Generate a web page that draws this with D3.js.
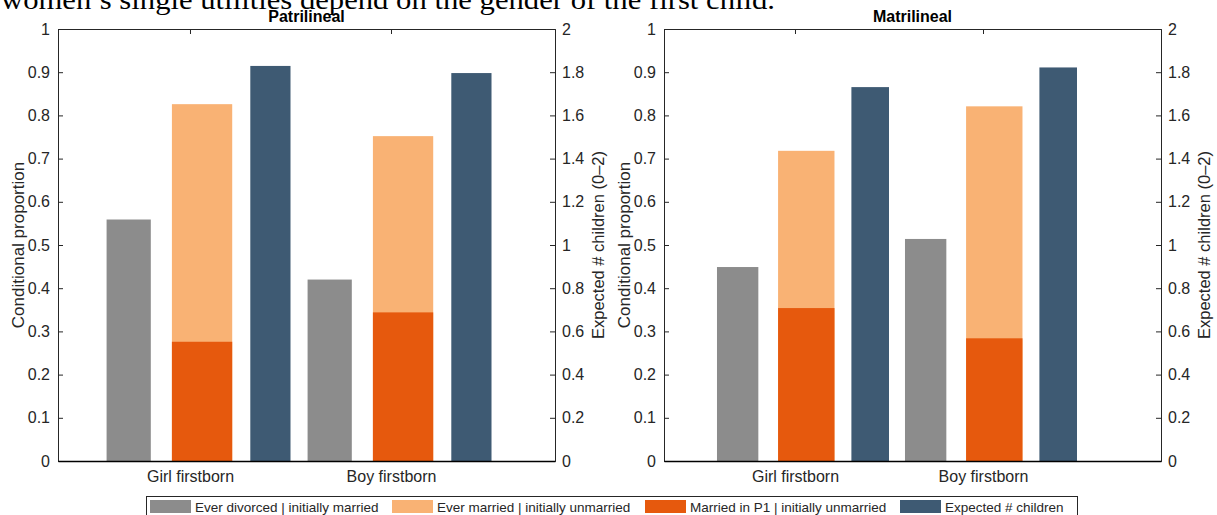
<!DOCTYPE html>
<html><head><meta charset="utf-8">
<script src="https://cdn.jsdelivr.net/npm/d3@7"></script>
<style>
html,body{margin:0;padding:0;background:#fff;overflow:hidden}
svg{display:block}
text{font-family:"Liberation Sans",Arial,Helvetica,sans-serif;fill:#262626}
</style></head>
<body>
<svg id="chart" width="1217" height="515"></svg>
<script>
// ---- data ----
const categories = ["Girl firstborn", "Boy firstborn"];
const panels = ["Patrilineal", "Matrilineal"];
const everDivorced = [[0.559, 0.420], [0.449, 0.514]];
const everMarried  = [[0.826, 0.752], [0.718, 0.821]];
const marriedP1    = [[0.276, 0.344], [0.354, 0.284]];
const expectedKids = [[1.829, 1.796], [1.731, 1.822]];
const leftTicks  = [0, 0.1, 0.2, 0.3, 0.4, 0.5, 0.6, 0.7, 0.8, 0.9, 1];
const rightTicks = [0, 0.2, 0.4, 0.6, 0.8, 1, 1.2, 1.4, 1.6, 1.8, 2];
const legendLabels = ["Ever divorced | initially married", "Ever married | initially unmarried", "Married in P1 | initially unmarried", "Expected # children"];
const headerText = "women\u2019s single utilities depend on the gender of the first child.";

// ---- styles ----
const colors = {div:"#8c8c8c", mar:"#f9b274", p1:"#e6590d", kids:"#3e5a73"};
const axisColor = "#262626";

const svg = d3.select("#chart");

// partial header line cut at top
svg.append("text").attr("x", 1).attr("y", 9)
  .attr("textLength", 774).attr("lengthAdjust", "spacingAndGlyphs")
  .style("font-family", "'Liberation Serif','DejaVu Serif',serif")
  .style("font-size", "28px").style("fill", "#000")
  .text(headerText);

const layout = [
  {left:58, width:497, dom:[0.3433, 2.8159]},
  {left:664, width:497, dom:[0.3032, 2.9468]}
];
const plotTop = 29, plotBottom = 461;

const series = [
  {key:"div", vals:everDivorced, off:-0.305, w:0.22, axis:"L"},
  {key:"mar", vals:everMarried, off:0.06, w:0.30, axis:"L"},
  {key:"p1", vals:marriedP1, off:0.06, w:0.30, axis:"L"},
  {key:"kids", vals:expectedKids, off:0.40, w:0.20, axis:"R"}
];

panels.forEach((title, pi) => {
  const L = layout[pi];
  const x = d3.scaleLinear().domain(L.dom).range([L.left, L.left + L.width]);
  const yL = d3.scaleLinear().domain([0, 1]).range([plotBottom, plotTop]);
  const yR = d3.scaleLinear().domain([0, 2]).range([plotBottom, plotTop]);
  const g = svg.append("g");

  series.forEach(s => {
    const y = s.axis === "L" ? yL : yR;
    g.selectAll(null).data(s.vals[pi]).enter().append("rect")
      .attr("x", (d, i) => x(i + 1 + s.off - s.w / 2))
      .attr("width", (d, i) => x(i + 1 + s.off + s.w / 2) - x(i + 1 + s.off - s.w / 2))
      .attr("y", d => y(d))
      .attr("height", d => y(0) - y(d))
      .attr("fill", colors[s.key]);
  });

  const axL = d3.axisLeft(yL).tickValues(leftTicks).tickFormat(d3.format("~g")).tickSize(-5).tickPadding(8);
  const gL = g.append("g").attr("transform", `translate(${L.left},0)`).call(axL);
  const axR = d3.axisRight(yR).tickValues(rightTicks).tickFormat(d3.format("~g")).tickSize(-5).tickPadding(7);
  const gR = g.append("g").attr("transform", `translate(${L.left + L.width},0)`).call(axR);
  const axB = d3.axisBottom(x).tickValues([1, 2]).tickFormat((d) => categories[d - 1]).tickSizeInner(0).tickSizeOuter(0).tickPadding(10);
  const gB = g.append("g").attr("transform", `translate(0,${plotBottom})`).call(axB);
  const axT = d3.axisTop(x).tickValues([1, 2]).tickFormat("").tickSize(-5);
  const gT = g.append("g").attr("transform", `translate(0,${plotTop})`).call(axT);

  [gL, gR, gB, gT].forEach(a => {
    a.selectAll(".domain").attr("stroke", axisColor).attr("stroke-width", 1);
    a.selectAll(".tick line").attr("stroke", axisColor);
    a.selectAll(".tick text").style("font-size", "16px").style("font-family", "'Liberation Sans',Arial,sans-serif").attr("fill", axisColor);
  });
  gB.select(".domain").attr("stroke", "#000").attr("stroke-width", 1.5);

  g.append("text")
    .attr("transform", `translate(${L.left - 34},${(plotTop + plotBottom) / 2}) rotate(-90)`)
    .attr("text-anchor", "middle").style("font-size", "17px")
    .text("Conditional proportion");
  g.append("text")
    .attr("transform", `translate(${L.left + L.width + 49},${(plotTop + plotBottom) / 2}) rotate(-90)`)
    .attr("text-anchor", "middle").style("font-size", "16.5px")
    .text("Expected # children (0\u20132)");
  g.append("text")
    .attr("x", L.left + L.width / 2).attr("y", 22)
    .attr("text-anchor", "middle").style("font-size", "16px").style("font-weight", "bold")
    .style("fill", "#000")
    .text(title);
});

// legend
const legend = svg.append("g");
legend.append("rect").attr("x", 146.5).attr("y", 496.5).attr("width", 931).attr("height", 19)
  .attr("fill", "#fff").attr("stroke", axisColor).attr("stroke-width", 1);
const legX = [150, 392, 645, 900];
const legKeys = ["div", "mar", "p1", "kids"];
legendLabels.forEach((lab, i) => {
  legend.append("rect").attr("x", legX[i]).attr("y", 500).attr("width", 41).attr("height", 13)
    .attr("fill", colors[legKeys[i]]);
  legend.append("text").attr("x", legX[i] + 45).attr("y", 511.5)
    .style("font-size", "13.5px").text(lab);
});
</script>
</body></html>
